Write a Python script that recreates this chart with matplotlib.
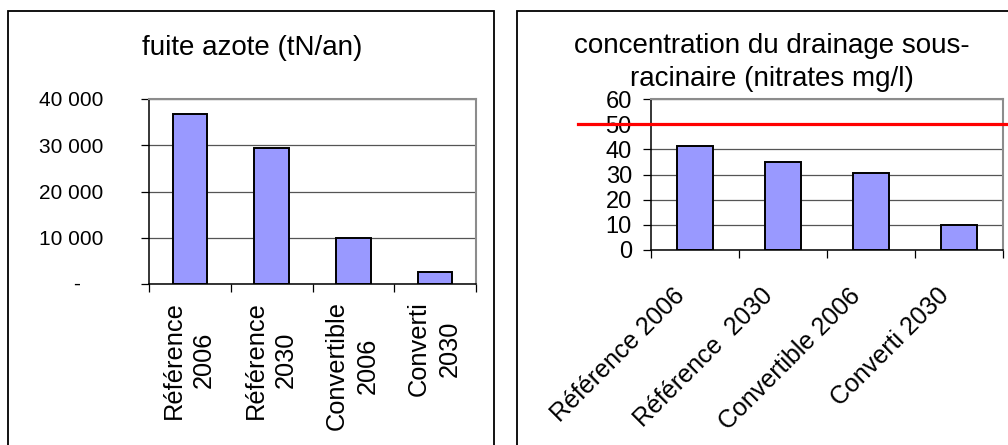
import matplotlib
matplotlib.use("Agg")
import matplotlib.pyplot as plt
from matplotlib.patches import Rectangle
from matplotlib.lines import Line2D
from matplotlib.transforms import blended_transform_factory, ScaledTranslation

plt.rcParams['font.family'] = ['Liberation Sans', 'DejaVu Sans']

# Data
left_categories = ["Référence\n2006", "Référence\n2030", "Convertible\n2006", "Converti\n2030"]
left_values = [36800, 29500, 10000, 2700]
left_ticks = [0, 10000, 20000, 30000, 40000]
left_ticklabels = ["", "10 000", "20 000", "30 000", "40 000"]
left_zero_label = "-"
left_title = "fuite azote (tN/an)"

right_categories = ["Référence 2006", "Référence  2030", "Convertible 2006", "Converti 2030"]
right_values = [41.5, 35, 30.5, 10]
right_ticks = [0, 10, 20, 30, 40, 50, 60]
right_title = "concentration du drainage sous-\nracinaire (nitrates mg/l)"
threshold = 50

W, H = 1008, 445
DPI = 100
fig = plt.figure(figsize=(W / DPI, H / DPI), dpi=DPI)
fig.patch.set_facecolor("white")


def px_axes(x0, y0, x1, y1):
    return fig.add_axes([x0 / W, 1 - y1 / H, (x1 - x0) / W, (y1 - y0) / H])


BAR = "#9999FF"
GRID = "#555555"
FRAME = "#8c8c8c"


def style_axes(ax, n, ymax, ticks):
    ax.set_xlim(0, n)
    ax.set_ylim(0, ymax)
    ax.set_yticks(ticks)
    ax.set_xticks([])
    ax.set_xticks(range(n + 1), minor=True)
    ax.tick_params(axis="x", which="minor", direction="out", length=5.5, width=0.9, color="black")
    ax.tick_params(axis="y", direction="out", length=5.8, width=0.9, color="black")
    ax.yaxis.grid(True, color=GRID, linewidth=0.9)
    ax.set_axisbelow(True)
    for s in ("left", "bottom"):
        ax.spines[s].set_color("black")
        ax.spines[s].set_linewidth(1.1)
    for s in ("top", "right"):
        ax.spines[s].set_color(FRAME)
        ax.spines[s].set_linewidth(1.5)
    ax.spines["bottom"].set_zorder(5)


# Chart frames
fig.add_artist(Rectangle((8 / W, 1 - 460 / H), (494 - 8) / W, (460 - 11) / H,
                         transform=fig.transFigure, fill=False, edgecolor="black",
                         linewidth=1.3, clip_on=False))
fig.add_artist(Rectangle((517 / W, 1 - 460 / H), (1030 - 517) / W, (460 - 11) / H,
                         transform=fig.transFigure, fill=False, edgecolor="black",
                         linewidth=1.3, clip_on=False))

# Left chart: nitrogen leakage
ax1 = px_axes(149, 99, 476, 284)
style_axes(ax1, len(left_values), 40000, left_ticks)
ax1.bar([i + 0.5 for i in range(len(left_values))], left_values, width=0.42,
        color=BAR, edgecolor="black", linewidth=1.4, zorder=3)
ax1.set_yticklabels(left_ticklabels, fontsize=15)
ax1.tick_params(axis="y", pad=27)
fig.text(77 / W, 1 - 284 / H, left_zero_label, fontsize=15, ha="center", va="center")
lab_trans = blended_transform_factory(ax1.transData, ax1.transAxes) + \
    ScaledTranslation(-1 / DPI, -17 / DPI, fig.dpi_scale_trans)
for i, lab in enumerate(left_categories):
    ax1.text(i + 0.5, 0, lab, transform=lab_trans, rotation=90, ha="center", va="top",
             multialignment="center", fontsize=18.3, linespacing=1.33)
fig.text(252 / W, 1 - 55 / H, left_title, fontsize=20, ha="center", va="baseline")

# Right chart: nitrate concentration
ax2 = px_axes(651, 99, 1003, 250)
style_axes(ax2, len(right_values), 60, right_ticks)
ax2.bar([i + 0.5 for i in range(len(right_values))], right_values, width=0.41,
        color=BAR, edgecolor="black", linewidth=1.4, zorder=3)
ax2.set_yticklabels([str(t) for t in right_ticks], fontsize=17)
ax2.tick_params(axis="y", pad=8)
lab_trans2 = blended_transform_factory(ax2.transData, ax2.transAxes) + \
    ScaledTranslation(-14 / DPI, -42 / DPI, fig.dpi_scale_trans)
for i, lab in enumerate(right_categories):
    ax2.text(i + 0.5, 0, lab, transform=lab_trans2, rotation=45, rotation_mode="anchor",
             ha="right", va="center", fontsize=18)
fig.text(772 / W, 1 - 86 / H, right_title, fontsize=20, ha="center", va="baseline",
         multialignment="center", linespacing=1.36)

# Threshold line at 50 mg/l
thr_trans = blended_transform_factory(fig.transFigure, ax2.transData)
fig.add_artist(Line2D([578 / W, 1.0], [threshold, threshold], transform=thr_trans,
                      color="#FF0000", linewidth=2.3, clip_on=False, zorder=10))

fig.savefig("out.png", dpi=DPI, facecolor="white")
